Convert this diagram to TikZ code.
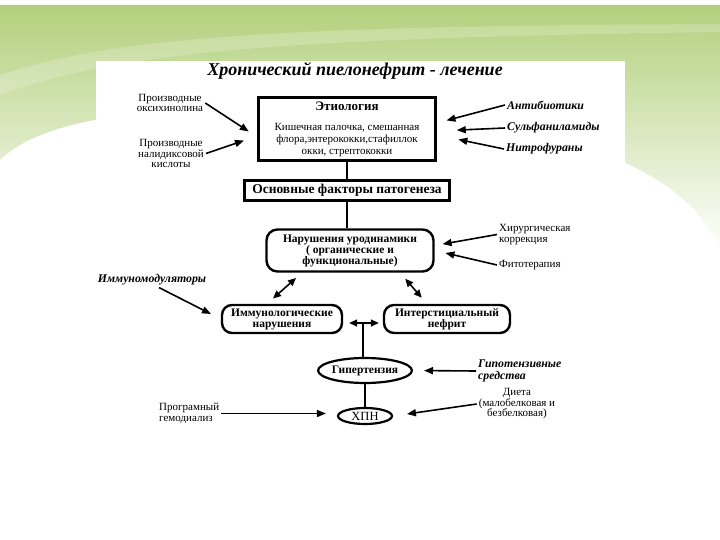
\documentclass[tikz,border=0pt]{standalone}
\usepackage{fontspec}
\setmainfont{Liberation Serif}
\usetikzlibrary{arrows.meta,positioning,shapes.geometric,calc}
\definecolor{leafgreen}{RGB}{178,208,124}

\begin{document}
\begin{tikzpicture}[x=1pt,y=-1pt,
    box/.style={draw, line width=2.6pt, fill=white, align=center, inner sep=2pt},
    rbox/.style={draw, line width=2.4pt, rounded corners=11pt, fill=white, align=center,
                 inner sep=2pt, font=\bfseries\fontsize{11.5}{11}\selectfont},
    oval/.style={draw, ellipse, line width=2.2pt, fill=white, inner sep=0pt},
    lbl/.style={align=center, inner sep=2pt, font=\fontsize{11}{10.5}\selectfont},
    ilbl/.style={align=left, inner sep=2pt, font=\bfseries\itshape\fontsize{11.8}{12}\selectfont},
    arr/.style={-{Triangle[length=9pt,width=7pt]}, line width=1.6pt},
    dbl/.style={{Triangle[length=8pt,width=7pt]}-{Triangle[length=8pt,width=7pt]}, line width=1.6pt},
    link/.style={line width=2pt}
  ]
  \useasboundingbox (0,0) rectangle (720,540);
  \fill[white] (0,0) rectangle (720,540);
  \shade[top color=leafgreen, bottom color=white]
    (0,5) -- (720,5) -- (720,250) .. controls (690,170) and (560,120) .. (360,110)
    .. controls (150,100) and (40,120) .. (0,160) -- cycle;
  \fill[white, opacity=0.2] (0,75) .. controls (120,35) and (300,26) .. (720,24)
    -- (720,32) .. controls (300,38) and (120,50) .. (0,95) -- cycle;
  \fill[white] (96,61) rectangle (625,540);

  \node[font=\bfseries\itshape\fontsize{18}{20}\selectfont] (title) at (355,71)
    {Хронический пиелонефрит - лечение};

  \node[box, minimum width=177pt, minimum height=63pt] (etio) at (347,129) {%
    {\bfseries\fontsize{13}{13}\selectfont Этиология}\\[8pt]
    {\fontsize{11}{12}\selectfont Кишечная палочка, смешанная}\\
    {\fontsize{11}{12}\selectfont флора,энтерококки,стафиллок}\\
    {\fontsize{11}{12}\selectfont окки, стрептококки}};
  \node[box, minimum width=205pt, minimum height=20pt,
        font=\bfseries\fontsize{13.5}{14}\selectfont] (factors) at (347,190.5)
    {Основные факторы патогенеза};
  \node[rbox, minimum width=167pt, minimum height=42pt] (urodyn) at (350,250.5)
    {Нарушения уродинамики\\( органические и\\функциональные)};
  \node[rbox, rounded corners=10pt, minimum width=120pt, minimum height=28pt] (immun) at (282,319)
    {Иммунологические\\нарушения};
  \node[rbox, rounded corners=10pt, minimum width=126pt, minimum height=28pt] (nephr) at (447,319)
    {Интерстициальный\\нефрит};
  \node[oval, minimum width=89pt, minimum height=25pt,
        font=\bfseries\fontsize{11.5}{12}\selectfont] (hypert) at (365,370.5) {Гипертензия};
  \node[oval, minimum width=54pt, minimum height=16pt,
        font=\fontsize{12.5}{13}\selectfont] (chpn) at (365,416) {ХПН};

  \node[lbl] (oxy) at (170,103) {Производные\\оксихинолина};
  \node[lbl] (nal) at (171,153.5) {Производные\\налидиксовой\\кислоты};
  \node[ilbl, anchor=west] (anti) at (505,105) {Антибиотики};
  \node[ilbl, anchor=west] (sulf) at (505,128) {Сульфаниламиды};
  \node[ilbl, anchor=west] (nitro) at (504,149) {Нитрофураны};
  \node[lbl, align=left, anchor=west] (surg) at (497,234.5) {Хирургическая\\коррекция};
  \node[lbl, anchor=west] (phyto) at (497,265) {Фитотерапия};
  \node[ilbl] (immod) at (152,280) {Иммуномодуляторы};
  \node[ilbl, anchor=west] (hypot) at (476,371) {Гипотензивные\\средства};
  \node[lbl, align=left, anchor=west] (hemod) at (157,413.5) {Програмный\\гемодиализ};
  \node[lbl] (diet) at (517,404) {Диета\\(малобелковая и\\безбелковая)};

  \draw[arr, shorten >=10pt] (oxy.east) -- ([yshift=-8pt]etio.west);
  \draw[arr, shorten >=14pt] (nal.east) -- ([yshift=-7pt]etio.west);
  \draw[arr, shorten >=10pt] (anti.west) -- ([yshift=6pt]etio.east);
  \draw[arr, shorten >=20pt] (sulf.west) -- ([yshift=-2pt]etio.east);
  \draw[arr, shorten >=22pt] (nitro.west) -- ([yshift=-6pt]etio.east);

  \draw[link] (etio.south) -- (factors.north);
  \draw[link] (factors.south) -- (factors.south |- urodyn.north);

  \draw[arr, shorten >=8pt] (surg.west) -- ([yshift=5pt]urodyn.east);
  \draw[arr, shorten >=11pt] (phyto.west) -- (urodyn.east);

  \draw[dbl, shorten <=8pt, shorten >=8pt] ([xshift=-48pt]urodyn.south) -- ([xshift=-15pt]immun.north);
  \draw[dbl, shorten <=8pt, shorten >=8pt] ([xshift=50pt]urodyn.south) -- ([xshift=-20pt]nephr.north);
  \draw[arr, shorten >=11pt] ([xshift=7pt]immod.south) -- (immun.west);
  \draw[dbl, shorten <=6pt, shorten >=4pt] ([yshift=-4pt]immun.east) -- ([yshift=-4pt]nephr.west);

  \coordinate (junc) at ($([yshift=-4pt]immun.east)!0.5!([yshift=-4pt]nephr.west)$);
  \draw[link] (junc) -- (junc |- hypert.north);
  \draw[arr, shorten >=11pt] (hypot.west) -- (hypert.east);
  \draw[link] (hypert.south) -- (chpn.north);
  \draw[arr, shorten >=11pt] (hemod.east) -- (hemod.east -| chpn.west);
  \draw[arr, shorten >=14pt] (diet.west) -- (chpn.east);
\end{tikzpicture}
\end{document}
